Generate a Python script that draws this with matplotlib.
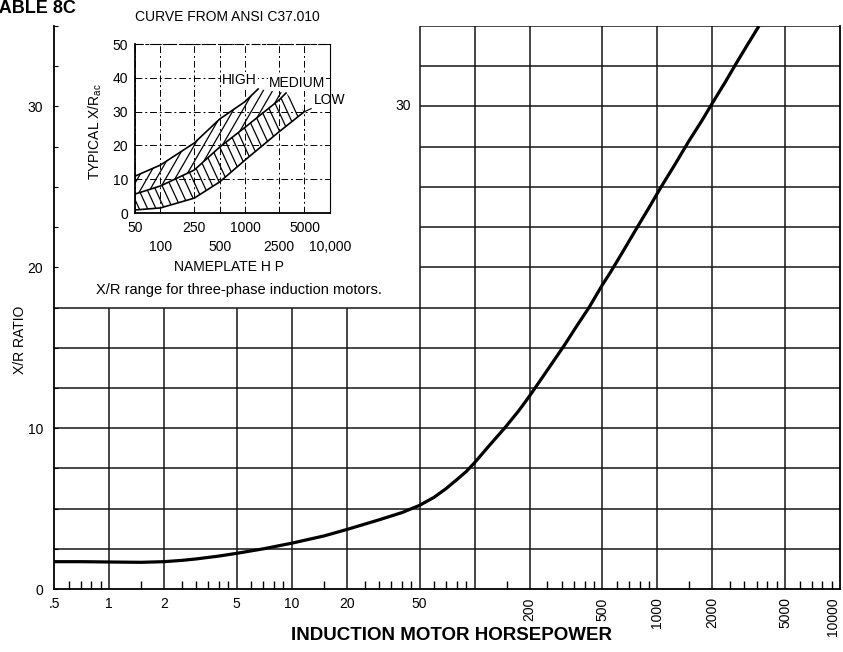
import matplotlib
matplotlib.use('Agg')
import numpy as np
import matplotlib.pyplot as plt
from matplotlib.collections import LineCollection

plt.rcParams['font.family'] = ['Liberation Sans', 'DejaVu Sans']

# main curve
hp = [0.5, 0.7, 1, 1.5, 2, 2.5, 3, 4, 5, 7, 10, 15, 20, 30, 40, 50, 60, 70,
      80, 90, 100, 120, 146, 175, 200, 250, 312, 360, 423, 500, 555, 650, 787,
      900, 1037, 1250, 1480, 1750, 2000, 2350, 2710, 3100, 3600]
xr = [1.7, 1.7, 1.68, 1.66, 1.7, 1.78, 1.87, 2.05, 2.22, 2.5, 2.85, 3.3, 3.7,
      4.3, 4.75, 5.2, 5.7, 6.25, 6.8, 7.3, 7.85, 8.9, 10.0, 11.1, 12.0, 13.6,
      15.2, 16.3, 17.5, 18.9, 19.7, 21.0, 22.6, 23.7, 24.9, 26.4, 27.8, 29.1,
      30.2, 31.5, 32.7, 33.8, 35.0]

x_ticks = [0.5, 1, 2, 5, 10, 20, 50, 100, 200, 500, 1000, 2000, 5000, 10000]
x_labels = ['.5', '1', '2', '5', '10', '20', '50', '', '200', '500', '1000',
            '2000', '5000', '10000']
rotated_labels = ['200', '500', '1000', '2000', '5000', '10000']
x_minor = [0.6, 0.7, 0.8, 0.9,
           1.5, 2.5, 3, 3.5, 4, 4.5, 6, 7, 8, 9,
           15, 25, 30, 35, 40, 45, 60, 70, 80, 90,
           150, 250, 300, 350, 400, 450, 600, 700, 800, 900,
           1500, 2500, 3000, 3500, 4000, 4500, 6000, 7000, 8000, 9000]
grid_x = [1, 2, 5, 10, 20, 50, 100, 200, 500, 1000, 2000, 5000]
grid_y = [2.5, 5, 7.5, 10, 12.5, 15, 17.5, 20, 22.5, 25, 27.5, 30, 32.5, 35]
y_ticks = [0, 2.5, 5, 7.5, 10, 12.5, 15, 17.5, 20, 22.5, 25, 27.5, 30, 32.5, 35]
y_labels = ['0', '', '', '', '10', '', '', '', '20', '', '', '', '30', '', '']

# inset (ANSI C37.010 curves)
high_hp = [50, 100, 250, 500, 1000, 1420]
high_xr = [10.9, 14.2, 20.7, 27.8, 33.0, 36.7]
med_hp = [50, 100, 250, 500, 1000, 2500, 3030]
med_xr = [5.6, 8.0, 12.7, 19.5, 25.4, 33.4, 35.5]
low_hp = [50, 100, 250, 500, 1000, 2500, 5000]
low_xr = [0.9, 1.5, 4.4, 9.2, 15.7, 24.0, 30.0]
in_x_row1 = [50, 250, 1000, 5000]
in_x_row1_labels = ['50', '250', '1000', '5000']
in_x_row2 = [100, 500, 2500, 10000]
in_x_row2_labels = ['100', '500', '2500', '10,000']
in_y_ticks = [0, 10, 20, 30, 40, 50]

# area of the main grid hidden by the inset
CUT_HP = 50
CUT_XR = 17.5

fig = plt.figure(figsize=(8.43, 6.52), dpi=100)
ax = fig.add_axes([0.0641, 0.0966, 0.9324, 0.8635])
ax.set_xscale('log')
ax.set_xlim(0.5, 10000)
ax.set_ylim(0, 35)

gc = '#151515'
for gx in grid_x:
    top = CUT_XR if gx < CUT_HP else 35
    ax.vlines(gx, 0, top, color=gc, lw=1.1, zorder=1)
for gy in grid_y:
    left = 0.5 if gy <= CUT_XR else CUT_HP
    ax.hlines(gy, left, 10000, color=gc, lw=1.1, zorder=1)

ax.plot(hp, xr, color='black', lw=2.3, solid_capstyle='butt',
        solid_joinstyle='round', zorder=3)

ax.spines['top'].set_visible(False)
for s in ['left', 'bottom', 'right']:
    ax.spines[s].set_linewidth(1.3)

ax.set_xticks(x_ticks)
ax.set_xticklabels(x_labels)
ax.set_xticks(x_minor, minor=True)
ax.tick_params(axis='x', which='major', length=0, pad=6, labelsize=10)
ax.tick_params(axis='x', which='minor', direction='in', length=6, width=1,
               labelbottom=False)
for lab in ax.get_xticklabels():
    if lab.get_text() in rotated_labels:
        lab.set_rotation(90)
    if lab.get_text() == '10000':
        lab.set_ha('right')
ax.set_yticks(y_ticks)
ax.set_yticklabels(y_labels)
ax.tick_params(axis='y', which='major', direction='in', length=3, pad=8,
               labelsize=10)
ax.annotate('30', xy=(CUT_HP, 30), xytext=(-6, 0), textcoords='offset points',
            ha='right', va='center', fontsize=10)

fig.text(0.0237, 0.479, 'X/R RATIO', rotation=90, ha='center', va='center',
         fontsize=10)
fig.text(0.536, 0.026, 'INDUCTION MOTOR HORSEPOWER', ha='center', va='center',
         fontsize=13.5, fontweight='bold')
fig.text(-0.013, 0.980, 'TABLE 8C', ha='left', va='baseline', fontsize=13,
         fontweight='bold')

# inset
ins = fig.add_axes([0.1601, 0.6733, 0.2313, 0.2592])
ins.set_xscale('log')
ins.set_xlim(50, 10000)
ins.set_ylim(0, 50)


def hatch_band(axis, xs, ys, dx, step):
    # steep hatch strokes in axes units, clipped to the band outline
    poly = axis.fill(xs, ys, facecolor='none', lw=0)[0]
    starts = np.arange(-1.0, 1.6, step)
    segs = [[(s, 0.0), (s + dx, 1.0)] for s in starts]
    lc = LineCollection(segs, colors='black', linewidths=0.9,
                        transform=axis.transAxes)
    axis.add_collection(lc, autolim=False)
    lc.set_clip_path(poly)


hatch_band(ins, high_hp + med_hp[::-1], high_xr + med_xr[::-1], 0.50, 0.048)
hatch_band(ins, med_hp + low_hp[::-1], med_xr + low_xr[::-1], -0.40, 0.043)
for cx, cy in [(high_hp, high_xr), (med_hp, med_xr), (low_hp, low_xr)]:
    ins.plot(cx, cy, color='black', lw=1.2)

ins.set_xticks(in_x_row1)
ins.set_xticklabels(in_x_row1_labels)
ins.set_xticks(in_x_row2, minor=True)
ins.set_xticklabels(in_x_row2_labels, minor=True)
ins.set_yticks(in_y_ticks)
ins.tick_params(axis='x', which='major', length=0, pad=6, labelsize=10)
ins.tick_params(axis='x', which='minor', length=0, pad=19.5, labelsize=10)
ins.tick_params(axis='y', length=0, pad=5, labelsize=10)
ins.grid(True, which='both', color='black', lw=0.7, ls=(0, (7, 3, 2, 3)))
ins.spines['top'].set_linestyle((0, (7, 3, 2, 3)))
ins.spines['top'].set_linewidth(0.8)
for s in ['left', 'bottom']:
    ins.spines[s].set_linewidth(1.3)

ins.text(536, 39.3, 'HIGH', ha='left', va='center', fontsize=10,
         bbox=dict(facecolor='white', edgecolor='none', pad=0.5))
ins.text(1915, 38.5, 'MEDIUM', ha='left', va='center', fontsize=10,
         bbox=dict(facecolor='white', edgecolor='none', pad=0.5))
ins.annotate('LOW', xy=(low_hp[-1], low_xr[-1]), xytext=(7, 8),
             textcoords='offset points', ha='left', va='center', fontsize=10,
             annotation_clip=False,
             arrowprops=dict(arrowstyle='-', color='black', lw=0.8,
                             shrinkA=0, shrinkB=0))

fig.text(0.270, 0.974, 'CURVE FROM ANSI C37.010', ha='center', va='center',
         fontsize=10)
fig.text(0.1127, 0.7975, 'TYPICAL X/R$_{\\mathregular{ac}}$', rotation=90,
         ha='center', va='center', fontsize=10)
fig.text(0.272, 0.590, 'NAMEPLATE H P', ha='center', va='center', fontsize=10)
fig.text(0.2835, 0.555, 'X/R range for three-phase induction motors.',
         ha='center', va='center', fontsize=10.5)

fig.savefig('out.png', dpi=100)
